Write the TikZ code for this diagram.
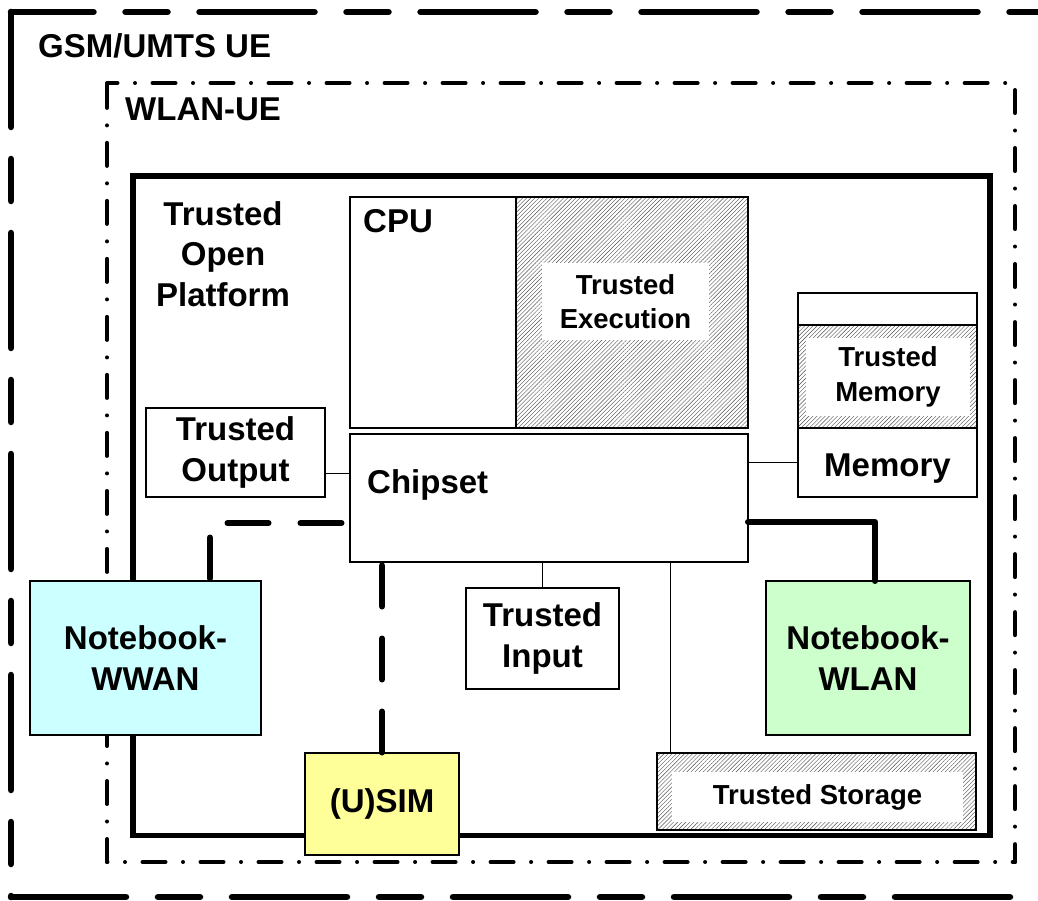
\documentclass[tikz,border=0pt]{standalone}
\usepackage{fontspec}
\setmainfont{Liberation Sans}
\usetikzlibrary{patterns.meta}
\definecolor{wwanfill}{HTML}{CCFFFF}
\definecolor{wlanfill}{HTML}{CCFFCC}
\definecolor{simfill}{HTML}{FFFF99}

\tikzset{
  gsmline/.style={line width=6.5pt, line cap=round, dash pattern=on 115pt off 32pt on 42pt off 32pt},
  wlanline/.style={line width=4pt, line cap=round, dash pattern=on 23pt off 17.5pt on 0.01pt off 17.5pt},
  topline/.style={line width=5.5pt, line join=miter},
  box/.style={draw=black, line width=1.2pt, fill=white, inner sep=0pt, outer sep=0pt, anchor=north west, align=center},
  hatched/.style={box, pattern={Lines[angle=45,distance=2.9pt,line width=0.4pt]}, pattern color=black!70},
  clearing/.style={fill=white, inner sep=0pt, outer sep=0pt, align=center},
  big/.style={font=\bfseries\fontsize{33}{40.5}\selectfont},
  small/.style={font=\bfseries\fontsize{27.5}{34.5}\selectfont},
  thinlink/.style={line width=1pt},
  wire/.style={line width=6pt, line cap=round, line join=round},
  dashedwire/.style={wire, dash pattern=on 41pt off 32pt},
}

\begin{document}
\begin{tikzpicture}[x=1pt, y=-1pt]
\useasboundingbox (0,0) rectangle (1038,901);

% GSM/UMTS UE domain (long/short dashed frame)
\draw[gsmline] (11,12) -- (11,897);
\draw[gsmline, dash phase=32.5pt] (11,12) -- (1060,12);
\draw[gsmline] (11,897) -- (1060,897);

% WLAN-UE domain (dash-dot frame)
\draw[wlanline] (107,862) -- (107,83);
\draw[wlanline, dash phase=12.5pt] (107,83) -- (1015,83);
\draw[wlanline, dash phase=51pt] (1015,83) -- (1015,862);
\draw[wlanline, dash phase=22.5pt] (107,862) -- (1015,862);

% Trusted Open Platform frame
\draw[topline] (133,176) rectangle (990,835.5);

\node[big, anchor=base west, inner sep=0pt] (gsmlbl) at (38,58) {GSM/UMTS UE};
\node[big, anchor=base west, inner sep=0pt] (wlanlbl) at (125,121) {WLAN-UE};
\node[big, anchor=north, align=center, inner sep=0pt] (toplbl) at (223,201) {Trusted\\Open\\Platform};

% CPU with trusted execution area
\node[box, minimum width=398, minimum height=231] (cpu) at (350,197) {};
\node[hatched, minimum width=232, minimum height=231] (texec) at (516,197) {};
\node[clearing, small, minimum width=167, minimum height=77] (texecin) at (625.5,301.5) {Trusted\\Execution};
\node[big, anchor=base west, inner sep=0pt] (cpulbl) at (363,233) {CPU};

% Chipset
\node[box, minimum width=398, minimum height=128] (chip) at (350,434) {};
\node[big, anchor=base west, inner sep=0pt] (chiplbl) at (367,493) {Chipset};

% Trusted output
\node[box, big, minimum width=179, minimum height=89] (tout) at (146,408) {Trusted\\Output};

% Memory stack
\node[box, minimum width=179, minimum height=32] (memtop) at (798,293) {};
\node[hatched, minimum width=179, minimum height=103] (tmem) at (798,325) {};
\node[clearing, small, minimum width=164, minimum height=78] (tmemin) at (888,377) {Trusted\\Memory};
\node[box, minimum width=179, minimum height=69] (mem) at (798,428) {};
\node[big, anchor=base, inner sep=0pt] (memlbl) at (887.5,476) {Memory};

% Trusted input
\node[box, big, minimum width=153, minimum height=101] (tin) at (466,588) {Trusted\\Input};

% Trusted storage
\node[hatched, minimum width=319, minimum height=77] (tsto) at (657,753) {};
\node[clearing, small, minimum width=291, minimum height=50] (tstoin) at (817.5,797) {Trusted Storage};

% Network adapters and (U)SIM
\node[box, big, fill=wwanfill, minimum width=231, minimum height=154] (wwan) at (30,581) {Notebook-\\WWAN};
\node[box, big, fill=wlanfill, minimum width=204, minimum height=154] (wlan) at (766,581) {Notebook-\\WLAN};
\node[box, big, fill=simfill, minimum width=154, minimum height=102] (sim) at (305,753) {(U)SIM};

% Internal buses
\draw[thinlink] (tout.east |- 0,473) -- (chip.west |- 0,473);
\draw[thinlink] (chip.east |- mem.west) -- (mem.west);
\draw[thinlink] (tin.north |- chip.south) -- (tin.north);
\draw[thinlink] (chip.south -| 670,0) -- (tsto.north -| 670,0);

% Links to the network interfaces
\coordinate (wwanbend) at (210,523);
\coordinate (wlanbend) at (875,522);
\draw[dashedwire, dash phase=64.5pt] (chip.west |- wwanbend) -- (wwanbend) -- (wwan.north -| wwanbend);
\draw[dashedwire, dash phase=69.5pt] (sim.north |- chip.south) -- (sim.north);
\draw[wire] (chip.east |- wlanbend) -- (wlanbend) -- (wlan.north -| wlanbend);
\end{tikzpicture}
\end{document}
